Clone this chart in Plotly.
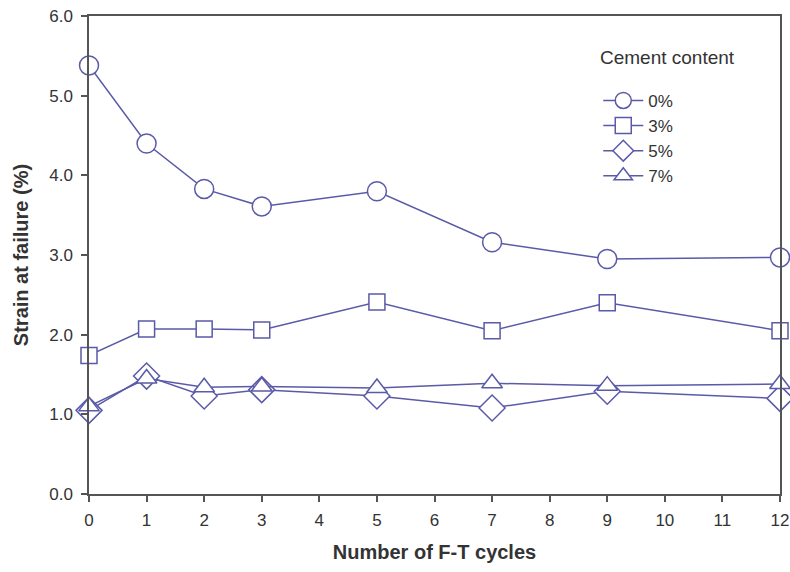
import plotly.graph_objects as go

cycles = [0, 1, 2, 3, 5, 7, 9, 12]
strain_0 = [5.38, 4.40, 3.83, 3.61, 3.80, 3.16, 2.95, 2.97]
strain_3 = [1.74, 2.07, 2.07, 2.06, 2.41, 2.05, 2.40, 2.05]
strain_5 = [1.05, 1.48, 1.23, 1.31, 1.23, 1.08, 1.29, 1.20]
strain_7 = [1.10, 1.45, 1.34, 1.35, 1.33, 1.39, 1.36, 1.38]
series_names = ["0%", "3%", "5%", "7%"]
x_ticks = list(range(0, 13))
y_ticks = [0, 1, 2, 3, 4, 5, 6]

line_color = "#5a5aa8"
text_color = "#333333"
axis_color = "#555555"
font_family = "Liberation Sans, Arial, sans-serif"

symbols = ["circle", "square", "diamond", "triangle-up"]
sizes = [19, 16, 20, 18]

fig = go.Figure()
for name, vals, sym, sz in zip(series_names, [strain_0, strain_3, strain_5, strain_7], symbols, sizes):
    fig.add_trace(go.Scatter(
        x=cycles, y=vals, name=name, mode="lines+markers",
        line=dict(color=line_color, width=1.5),
        marker=dict(symbol=sym, size=sz, color="white",
                    line=dict(color=line_color, width=1.5)),
        cliponaxis=False,
    ))

axis_common = dict(
    showline=True, linecolor=axis_color, linewidth=1.5, mirror=True,
    ticks="outside", ticklen=6, tickcolor=axis_color, tickwidth=1.5,
    showgrid=False, zeroline=False, automargin=False,
    tickfont=dict(family=font_family, size=17, color=text_color),
)

fig.update_layout(
    width=790, height=572,
    margin=dict(l=89, r=10, t=16, b=78),
    paper_bgcolor="white", plot_bgcolor="white",
    font=dict(family=font_family, color=text_color),
    xaxis=dict(axis_common, range=[0, 12], tickvals=x_ticks, ticklabelstandoff=4,
               title=dict(text="<b>Number of F-T cycles</b>",
                          font=dict(size=20, color=text_color), standoff=16)),
    yaxis=dict(axis_common, range=[0, 6], tickvals=y_ticks, tickformat=".1f",
               ticklabelstandoff=5,
               title=dict(text="<b>Strain at failure (%)</b>",
                          font=dict(size=20, color=text_color), standoff=15)),
    legend=dict(
        x=0.737, y=0.86, xanchor="left", yanchor="top",
        bgcolor="rgba(0,0,0,0)",
        font=dict(size=17, color=text_color),
        itemwidth=40, tracegroupgap=0,
    ),
    annotations=[dict(
        text="Cement content", x=0.737, y=0.914, xref="paper", yref="paper",
        xanchor="left", yanchor="middle", showarrow=False,
        font=dict(size=19, color=text_color),
    )],
)

fig.write_html("out.html")
